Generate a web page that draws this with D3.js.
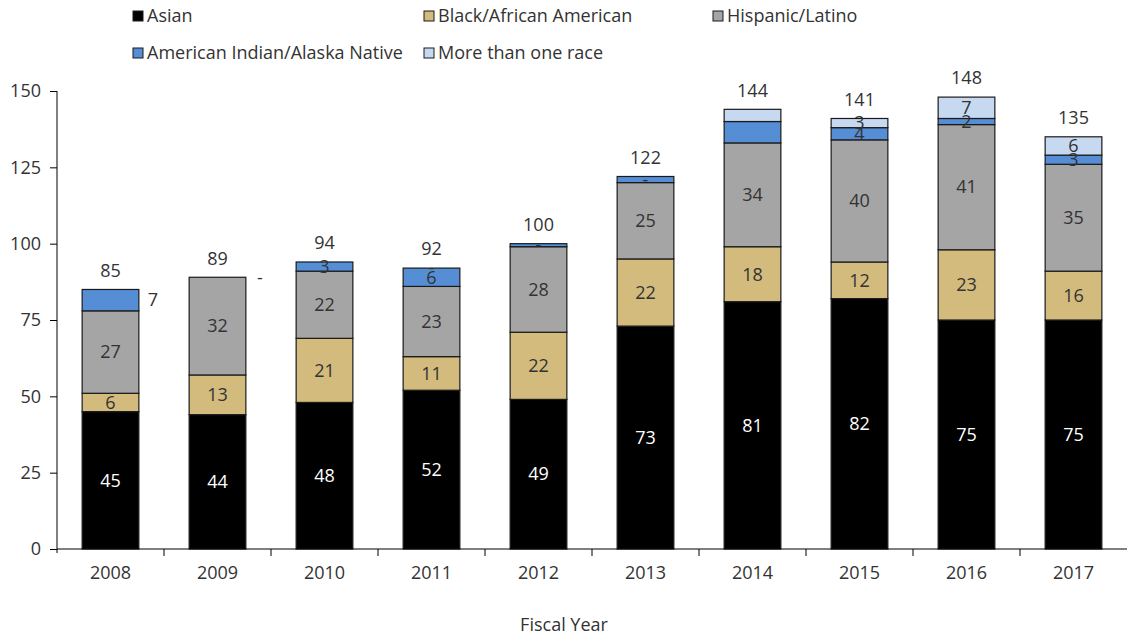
<!DOCTYPE html>
<html><head><meta charset="utf-8">
<script src="https://cdn.jsdelivr.net/npm/d3@7"></script>
<style>body{margin:0;background:#fff;} svg{display:block;font-family:"Open Sans","Noto Sans",sans-serif;}</style>
</head><body><svg id="c" width="1127" height="638"></svg>
<script>
const years = ["2008","2009","2010","2011","2012","2013","2014","2015","2016","2017"];
const seriesNames = ["Asian","Black/African American","Hispanic/Latino","American Indian/Alaska Native","More than one race"];
const seriesColors = ["#000000","#d2bb7d","#a5a5a5","#558ed5","#c6d9f1"];
const asian    = [45,44,48,52,49,73,81,82,75,75];
const black    = [6,13,21,11,22,22,18,12,23,16];
const hispanic = [27,32,22,23,28,25,34,40,41,35];
const amInd    = [7,0,3,6,1,2,7,4,2,3];
const multi    = [0,0,0,0,0,0,4,3,7,6];
const totals   = [85,89,94,92,100,122,144,141,148,135];
// data label text as shown ("" = no label)
const asianLbl    = ["45","44","48","52","49","73","81","82","75","75"];
const blackLbl    = ["6","13","21","11","22","22","18","12","23","16"];
const hispanicLbl = ["27","32","22","23","28","25","34","40","41","35"];
const amIndLbl    = ["7","-","3","6","-","-","","4","2","3"];
const multiLbl    = ["","","","-","","","","3","7","6"];
const yTicks = [0,25,50,75,100,125,150];
const outsideLabelYears = ["2008","2009"];

const values = [asian,black,hispanic,amInd,multi];
const labels = [asianLbl,blackLbl,hispanicLbl,amIndLbl,multiLbl];

const svg = d3.select("#c");
const x = d3.scaleBand().domain(years).range([57,1127]).paddingInner(0.47).paddingOuter(0.235);
const xTick = d3.scaleLinear().domain([0,years.length]).range([57,1127]);
const y = d3.scaleLinear().domain([0,150]).range([549,91]);

const txt = "#333";

// y axis
const yAx = svg.append("g").attr("transform","translate(57,0)")
  .call(d3.axisLeft(y).tickValues(yTicks).tickSize(7).tickPadding(9));
yAx.select(".domain").attr("stroke","#000").attr("d","M0,91V553");
yAx.selectAll(".tick line").attr("stroke","#000");
yAx.selectAll("text").attr("font-size",18).attr("fill",txt).attr("font-family","Open Sans, sans-serif");

// stacked data
const rows = years.map((yr,i)=>{const o={year:yr}; seriesNames.forEach((s,k)=>o[s]=values[k][i]); return o;});
const stack = d3.stack().keys(seriesNames)(rows);

stack.forEach((layer,k)=>{
  const g = svg.append("g");
  g.selectAll("rect").data(layer.filter(d=>d[1]-d[0]>0)).join("rect")
    .attr("x",d=>x(d.data.year)).attr("width",x.bandwidth())
    .attr("y",d=>y(d[1])).attr("height",d=>y(d[0])-y(d[1]))
    .attr("fill",seriesColors[k]).attr("stroke","#1a1a1a").attr("stroke-width",1.2);
});

// x axis
svg.append("line").attr("x1",57).attr("x2",1127).attr("y1",549).attr("y2",549).attr("stroke","#000").attr("stroke-width",1);
svg.selectAll(".xt").data(d3.range(1,years.length)).join("line")
  .attr("x1",d=>xTick(d)).attr("x2",d=>xTick(d)).attr("y1",549).attr("y2",556).attr("stroke","#000");
svg.selectAll(".xl").data(years).join("text")
  .attr("x",d=>x(d)+x.bandwidth()/2).attr("y",579).attr("text-anchor","middle")
  .attr("font-size",18).attr("fill",txt).text(d=>d);

// segment labels
stack.forEach((layer,k)=>{
  layer.forEach((d,i)=>{
    const t = labels[k][i]; if(!t) return;
    const yr = d.data.year;
    let cx = x(yr)+x.bandwidth()/2, cy = y((d[0]+d[1])/2);
    if(k===3 && outsideLabelYears.includes(yr)){ cx = x(yr)+x.bandwidth()+14; }
    svg.append("text").attr("x",cx).attr("y",cy).attr("dy","0.35em")
      .attr("text-anchor","middle").attr("font-size",18)
      .attr("fill",k===0?"#ffffff":txt).text(t);
  });
});

// totals
svg.selectAll(".tot").data(years).join("text")
  .attr("x",d=>x(d)+x.bandwidth()/2).attr("y",(d,i)=>y(totals[i])-19).attr("dy","0.35em")
  .attr("text-anchor","middle").attr("font-size",18).attr("fill",txt).text((d,i)=>totals[i]);

// axis title
svg.append("text").attr("x",564).attr("y",631).attr("text-anchor","middle").attr("font-size",18).attr("fill",txt).text("Fiscal Year");

// legend
const legPos = [[133,16],[424,16],[713,16],[133,53],[424,53]];
seriesNames.forEach((s,k)=>{
  const [lx,ly] = legPos[k];
  svg.append("rect").attr("x",lx).attr("y",ly-5).attr("width",10).attr("height",10)
    .attr("fill",seriesColors[k]).attr("stroke","#1a1a1a").attr("stroke-width",1);
  svg.append("text").attr("x",lx+14).attr("y",ly).attr("dy","0.35em").attr("font-size",18).attr("fill",txt).text(s);
});
</script></body></html>
